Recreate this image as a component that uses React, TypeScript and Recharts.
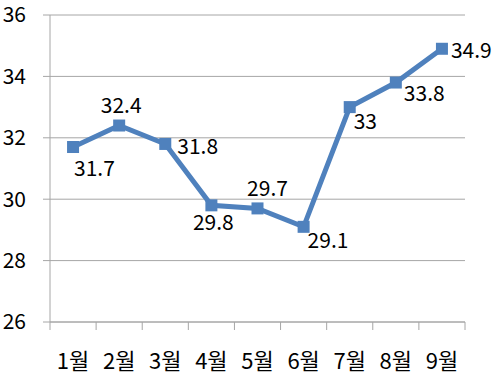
import React from "react";
import { LineChart, Line, XAxis, YAxis, CartesianGrid, LabelList } from "recharts";

const months = ["1월", "2월", "3월", "4월", "5월", "6월", "7월", "8월", "9월"];
const temps = [31.7, 32.4, 31.8, 29.8, 29.7, 29.1, 33, 33.8, 34.9];
const yTicks = [26, 28, 30, 32, 34, 36];

// where each value label sits relative to its point: [dx, dy, anchor]
const labelSpots: [number, number, string][] = [
  [1, 20, "start"],
  [2, -22, "middle"],
  [12, 1, "start"],
  [2, 16, "middle"],
  [10, -21, "middle"],
  [4, 12, "start"],
  [4, 13, "start"],
  [8, 9, "start"],
  [9, 0, "start"],
];

// each month sits in the middle of its slot; axis ticks mark the slot edges
const data = months.map((m, i) => ({ month: m, slot: i + 0.5, temp: temps[i] }));
const slotEdges = months.map((_, i) => i).concat(months.length);

const FONT = "'Noto Sans CJK KR', 'Noto Sans', sans-serif";
const BLUE = "#4F81BD";
const GRAY = "#A6A6A6";
const W = 496;
const H = 374;
const M = { top: 15, right: 31, bottom: 0, left: 0 };
const Y_W = 50;
const HALF_SLOT = (W - M.left - M.right - Y_W) / months.length / 2;

const SquareDot = (props: any) => {
  const { cx, cy, index } = props;
  return <rect key={index} x={cx - 6} y={cy - 6} width={12} height={12} fill={BLUE} />;
};

const ValueLabel = (props: any) => {
  const { x, y, value, index } = props;
  const [dx, dy, anchor] = labelSpots[index];
  return (
    <text
      x={x + dx}
      y={y + dy}
      textAnchor={anchor}
      dominantBaseline="central"
      fontSize={21}
      fontFamily={FONT}
      fill="#000"
    >
      {value}
    </text>
  );
};

const MonthTick = (props: any) => {
  const { x, y, payload } = props;
  const name = months[payload.value];
  if (!name) return <g />;
  return (
    <text x={x + HALF_SLOT} y={y + 29} textAnchor="middle" dominantBaseline="central" fontSize={22} fontFamily={FONT} fill="#000">
      {name}
    </text>
  );
};

export default function App() {
  return (
    <div style={{ position: "absolute", left: 0, top: 0, background: "#fff" }}>
      <LineChart width={W} height={H} data={data} margin={M}>
        <CartesianGrid vertical={false} stroke={GRAY} />
        <XAxis
          type="number"
          dataKey="slot"
          domain={[0, months.length]}
          ticks={slotEdges}
          interval={0}
          tick={<MonthTick />}
          tickSize={8}
          tickMargin={0}
          tickLine={{ stroke: GRAY }}
          axisLine={{ stroke: GRAY }}
          height={52}
        />
        <YAxis
          domain={[26, 36]}
          ticks={yTicks}
          width={Y_W}
          tickSize={7}
          tickMargin={17}
          tickLine={{ stroke: GRAY }}
          axisLine={{ stroke: GRAY }}
          tick={{ fontSize: 21, fontFamily: FONT, fill: "#000" }}
        />
        <Line
          type="linear"
          dataKey="temp"
          stroke={BLUE}
          strokeWidth={5}
          dot={<SquareDot />}
          activeDot={false}
          isAnimationActive={false}
        >
          <LabelList dataKey="temp" content={<ValueLabel />} />
        </Line>
      </LineChart>
    </div>
  );
}
